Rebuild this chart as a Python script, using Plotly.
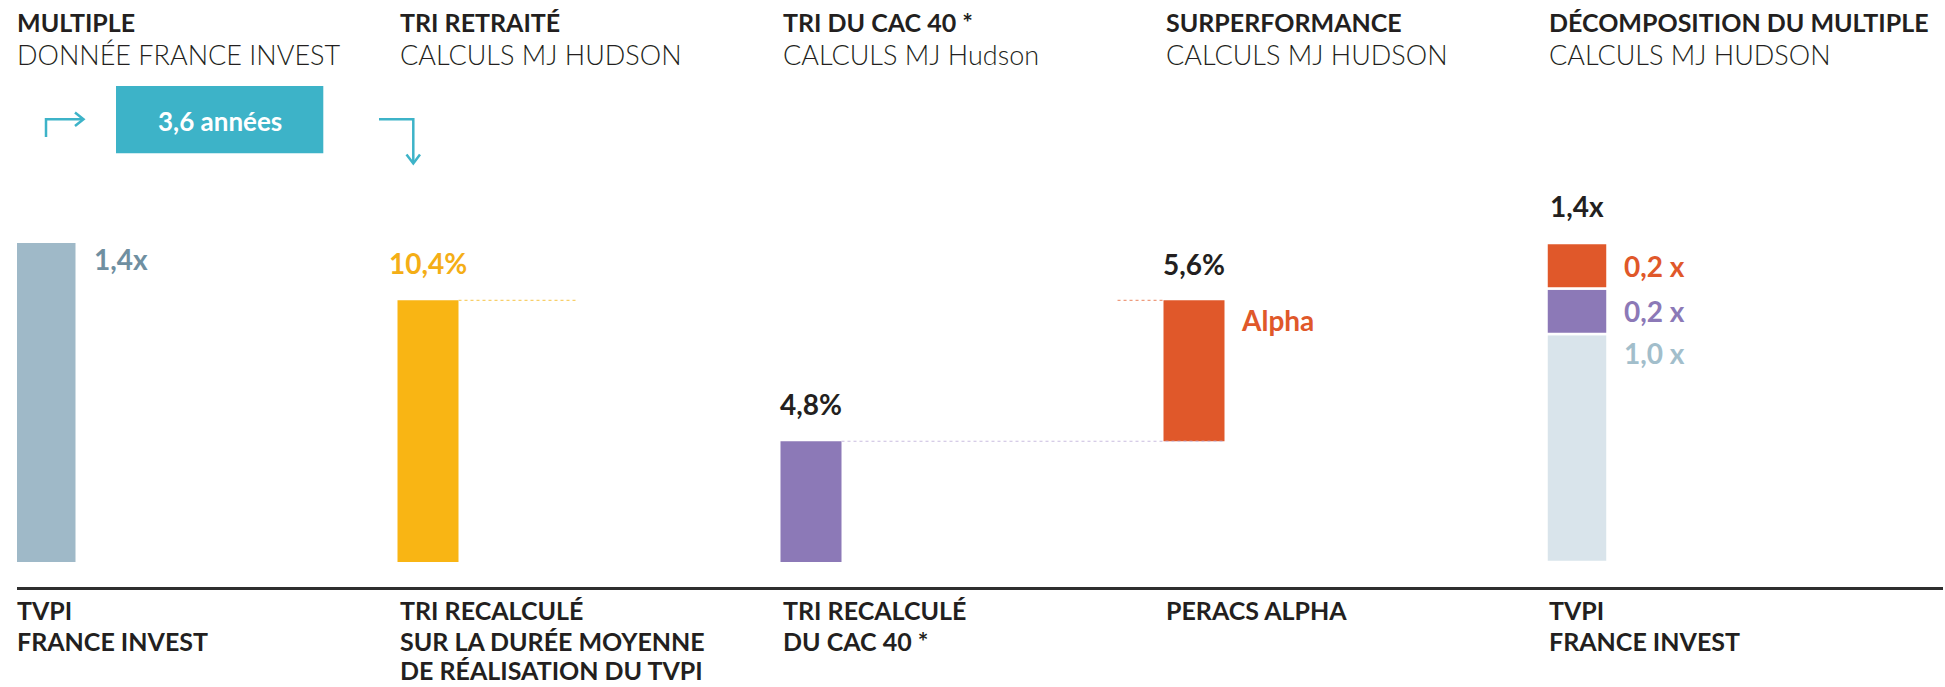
import plotly.graph_objects as go

# ---------------- data ----------------
categories = ["TVPI France Invest", "TRI recalculé", "TRI recalculé CAC 40",
              "PERACS Alpha", "Décomposition TVPI"]
tvpi_multiple = 1.4          # multiple (x)
tri_retraite = 10.4          # %
tri_cac40 = 4.8              # %
alpha = 5.6                  # %
decomp_names = ["Base", "Marché", "Alpha"]
decomp_values = [1.0, 0.2, 0.2]   # multiple (x)
duree_moyenne = 3.6          # années

titles = ["MULTIPLE", "TRI RETRAITÉ", "TRI DU CAC 40 *", "SURPERFORMANCE",
          "DÉCOMPOSITION DU MULTIPLE"]
subtitles = ["DONNÉE FRANCE INVEST", "CALCULS MJ HUDSON", "CALCULS MJ Hudson",
             "CALCULS MJ HUDSON", "CALCULS MJ HUDSON"]
bottom_labels = [["TVPI", "FRANCE INVEST"],
                 ["TRI RECALCULÉ", "SUR LA DURÉE MOYENNE", "DE RÉALISATION DU TVPI"],
                 ["TRI RECALCULÉ", "DU CAC 40 *"],
                 ["PERACS ALPHA"],
                 ["TVPI", "FRANCE INVEST"]]

# ---------------- layout / style ----------------
W, H = 1945, 687
M_L, M_R, M_T, M_B = 17, 2, 187, 100
PLOT_W = W - M_L - M_R
PLOT_H = H - M_T - M_B
COL_STEP = 383.0      # px between column centres
FIRST_CENTER = 45.0   # px, centre of the first column
BAR_PX = 61.0
BASE_GAP = 25.0       # px between axis line and bar baseline
PX_PER_X = 227.9      # px per 1.0x multiple
PX_PER_PCT = 25.16    # px per 1 %

BW = BAR_PX / COL_STEP

C_TVPI = "#9FB9C8"
C_TVPI_TXT = "#6F8FA1"
C_YEL = "#F9B514"
C_PUR = "#8C79B7"
C_ORA = "#E0582A"
C_LIGHT = "#D9E4EB"
C_LIGHT_TXT = "#A2BECB"
C_TEAL = "#3DB3C8"
C_DARK = "#231F20"

F_LATO = "Lato, 'Open Sans', sans-serif"


def fmt(v, suffix):
    return f"{v:.1f}".replace(".", ",") + suffix


def fx(px):
    return (px - M_L) / PLOT_W


def py(px):
    return (H - M_B - px) / PLOT_H


def col_left_px(i):
    return FIRST_CENTER + i * COL_STEP - BAR_PX / 2


fig = go.Figure()

# Column 1: TVPI multiple
fig.add_trace(go.Bar(x=[categories[0]], y=[tvpi_multiple], width=BW,
                     marker=dict(color=C_TVPI, line=dict(width=0)), yaxis="y",
                     hoverinfo="skip"))
# Column 2: TRI retraité
fig.add_trace(go.Bar(x=[categories[1]], y=[tri_retraite], width=BW,
                     marker=dict(color=C_YEL, line=dict(width=0)), yaxis="y2",
                     hoverinfo="skip"))
# Column 3: TRI CAC 40
fig.add_trace(go.Bar(x=[categories[2]], y=[tri_cac40], width=BW,
                     marker=dict(color=C_PUR, line=dict(width=0)), yaxis="y2",
                     hoverinfo="skip"))
# Column 4: Alpha (floating)
fig.add_trace(go.Bar(x=[categories[3]], y=[alpha], base=[tri_cac40], width=BW,
                     marker=dict(color=C_ORA, line=dict(width=0)), yaxis="y2",
                     hoverinfo="skip"))
# Column 5: stacked decomposition
seg_colors = [C_LIGHT, C_PUR, C_ORA]
seg_txt_colors = [C_LIGHT_TXT, C_PUR, C_ORA]
cum = 0.0
bases = []
for v, c in zip(decomp_values, seg_colors):
    bases.append(cum)
    fig.add_trace(go.Bar(x=[categories[4]], y=[v], base=[cum], width=BW,
                         marker=dict(color=c, line=dict(width=2.5, color="white")),
                         yaxis="y", hoverinfo="skip"))
    cum += v
decomp_total = cum

annotations = []
shapes = []

# titles / subtitles
for i, (t, s) in enumerate(zip(titles, subtitles)):
    annotations.append(dict(x=fx(col_left_px(i)), xref="paper", xanchor="left",
                            y=py(22), yref="paper", yanchor="middle",
                            text=t, showarrow=False,
                            font=dict(family=F_LATO, size=25, color=C_DARK, weight=700)))
    annotations.append(dict(x=fx(col_left_px(i)), xref="paper", xanchor="left",
                            y=py(54), yref="paper", yanchor="middle",
                            text=s, showarrow=False,
                            font=dict(family=F_LATO, size=27, color=C_DARK, weight=300)))

# bottom labels
line_centers = [610, 641, 670]
for i, lines in enumerate(bottom_labels):
    for j, ln in enumerate(lines):
        annotations.append(dict(x=fx(col_left_px(i)), xref="paper", xanchor="left",
                                y=py(line_centers[j]), yref="paper", yanchor="middle",
                                text=ln, showarrow=False,
                                font=dict(family=F_LATO, size=25, color=C_DARK, weight=700)))

# value labels
val_font = lambda c: dict(family=F_LATO, size=28, color=c, weight=700)
annotations += [
    dict(x=0 + BW / 2, xref="x", xanchor="left", xshift=16,
         y=tvpi_multiple, yref="y", yanchor="middle", yshift=-16,
         text=fmt(tvpi_multiple, "x"), showarrow=False, font=val_font(C_TVPI_TXT)),
    dict(x=1, xref="x", xanchor="center",
         y=tri_retraite, yref="y2", yanchor="middle", yshift=37,
         text=fmt(tri_retraite, "%"), showarrow=False, font=val_font("#F4AE16")),
    dict(x=2, xref="x", xanchor="center",
         y=tri_cac40, yref="y2", yanchor="middle", yshift=37,
         text=fmt(tri_cac40, "%"), showarrow=False, font=val_font(C_DARK)),
    dict(x=3, xref="x", xanchor="center",
         y=tri_cac40 + alpha, yref="y2", yanchor="middle", yshift=36,
         text=fmt(alpha, "%"), showarrow=False, font=val_font(C_DARK)),
    dict(x=3 + BW / 2, xref="x", xanchor="left", xshift=14,
         y=tri_cac40 + alpha, yref="y2", yanchor="middle", yshift=-20,
         text="Alpha", showarrow=False, font=val_font(C_ORA)),
    dict(x=4, xref="x", xanchor="center",
         y=decomp_total, yref="y", yanchor="middle", yshift=37,
         text=fmt(decomp_total, "x"), showarrow=False, font=val_font(C_DARK)),
]
# segment labels (top two at segment middle, base one near its top)
for k, (v, b, c) in enumerate(zip(decomp_values, bases, seg_txt_colors)):
    if k == 0:
        yv, ys = b + v, -19
    else:
        yv, ys = b + v / 2, 0
    annotations.append(dict(x=4 + BW / 2, xref="x", xanchor="left", xshift=14,
                            y=yv, yref="y", yanchor="middle", yshift=ys,
                            text=fmt(v, " x"), showarrow=False, font=val_font(c)))

# dotted connectors
shapes += [
    dict(type="line", xref="x", yref="y2", x0=1 + BW / 2, x1=1 + BW / 2 + 0.31,
         y0=tri_retraite, y1=tri_retraite, line=dict(color="#F8CF6A", width=1.2, dash="dot")),
    dict(type="line", xref="x", yref="y2", x0=3 - BW / 2 - 0.12, x1=3 - BW / 2,
         y0=tri_cac40 + alpha, y1=tri_cac40 + alpha,
         line=dict(color="#EE9C7E", width=1.2, dash="dot")),
    dict(type="line", xref="x", yref="y2", x0=2 + BW / 2, x1=3 + BW / 2,
         y0=tri_cac40, y1=tri_cac40, line=dict(color="#C9BDE0", width=1.2, dash="dot")),
]

# duration box with arrows
shapes.append(dict(type="rect", xref="paper", yref="paper",
                   x0=fx(116), x1=fx(323.3), y0=py(153.3), y1=py(86),
                   fillcolor=C_TEAL, line=dict(width=0), layer="above"))
annotations.append(dict(x=fx(219.7), xref="paper", xanchor="center",
                        y=py(121), yref="paper", yanchor="middle",
                        text=fmt(duree_moyenne, " années"), showarrow=False,
                        font=dict(family=F_LATO, size=26, color="white", weight=700)))


def path(pts):
    return "M " + " L ".join(f"{fx(x):.5f},{py(y):.5f}" for x, y in pts)


arrow_line = dict(color=C_TEAL, width=2.5)
shapes += [
    dict(type="path", xref="paper", yref="paper",
         path=path([(46, 137), (46, 119.3), (83, 119.3)]), line=arrow_line),
    dict(type="path", xref="paper", yref="paper",
         path=path([(75, 112.5), (83.5, 119.3), (75, 126)]), line=arrow_line),
    dict(type="path", xref="paper", yref="paper",
         path=path([(379, 119.3), (413.3, 119.3), (413.3, 163)]), line=arrow_line),
    dict(type="path", xref="paper", yref="paper",
         path=path([(406.5, 154.5), (413.3, 163.5), (420, 154.5)]), line=arrow_line),
]

x_range = [-(FIRST_CENTER - M_L) / COL_STEP, (W - M_R - FIRST_CENTER) / COL_STEP]
y_range = [-BASE_GAP / PX_PER_X, (PLOT_H - BASE_GAP) / PX_PER_X]
y2_range = [-BASE_GAP / PX_PER_PCT, (PLOT_H - BASE_GAP) / PX_PER_PCT]

fig.update_layout(
    width=W, height=H,
    margin=dict(l=M_L, r=M_R, t=M_T, b=M_B, pad=0),
    paper_bgcolor="white", plot_bgcolor="white",
    showlegend=False, barmode="overlay",
    xaxis=dict(type="category", categoryorder="array", categoryarray=categories,
               range=x_range, showticklabels=False, ticks="", showgrid=False,
               zeroline=False, showline=True, linecolor="#2E2E2E", linewidth=3,
               fixedrange=True),
    yaxis=dict(range=y_range, visible=False, showgrid=False, zeroline=False,
               fixedrange=True),
    yaxis2=dict(range=y2_range, overlaying="y", visible=False, showgrid=False,
                zeroline=False, fixedrange=True),
    annotations=annotations,
    shapes=shapes,
)

fig.write_html("out.html",
               config={"displayModeBar": False},
               post_script="document.body.style.margin='0px';document.body.style.overflow='hidden';")
